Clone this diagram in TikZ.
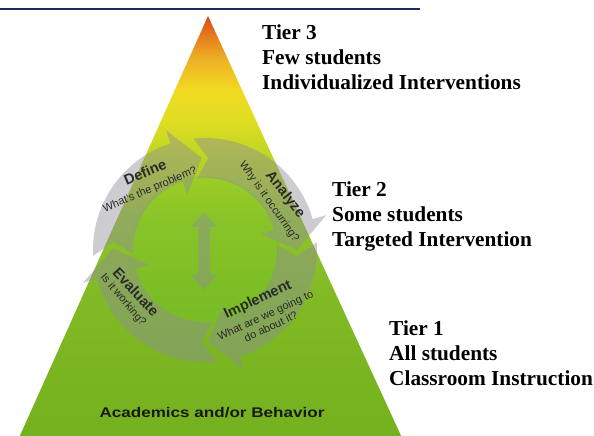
\documentclass[tikz,border=0pt]{standalone}
\usepackage{fontspec}
\usepackage{graphicx}
\setmainfont{Liberation Serif}
\setsansfont{Liberation Sans}

% pyramid colours, apex to base
\definecolor{pyrTop}{HTML}{D4481A}
\definecolor{pyrA1}{HTML}{E67A1E}
\definecolor{pyrA2}{HTML}{EEB224}
\definecolor{pyrB}{HTML}{F0DA22}
\definecolor{pyrC}{HTML}{E0DE22}
\definecolor{pyrD}{HTML}{BAD422}
\definecolor{pyrE}{HTML}{92C42A}
\definecolor{pyrF}{HTML}{80BA24}
\definecolor{pyrG}{HTML}{74B11E}
\definecolor{ruleblue}{HTML}{1F2A60}
\definecolor{cyclegray}{HTML}{8E8E98}
\definecolor{cycletext}{HTML}{2A2A2A}
\definecolor{glowgreen}{HTML}{70C626}

\pgfdeclareverticalshading{pyramid}{100bp}{%
  color(0bp)=(pyrG); color(25bp)=(pyrG); color(41.51bp)=(pyrF);
  color(50.94bp)=(pyrE); color(58.02bp)=(pyrD); color(62.74bp)=(pyrC);
  color(66.27bp)=(pyrB); color(69.81bp)=(pyrA2); color(72.76bp)=(pyrA1);
  color(75bp)=(pyrTop); color(100bp)=(pyrTop)}

% one curved arrow of the cycle: tail angle, barb angle, tip angle
\newcommand\cyclearrow[3]{%
  \fill[cyclefill] (#1:112) arc[start angle=#1, end angle=#2, radius=112]
    -- (#2:126) -- (#3:92) -- (#2:58) -- (#2:72)
    arc[start angle=#2, end angle=#1, radius=72]
    -- ({#1-8}:92) -- cycle;}

\tikzset{
  tiertext/.style={anchor=base west, align=left, inner sep=0pt,
    font=\bfseries\fontsize{21.3bp}{25bp}\selectfont},
  cyclefill/.style={fill=cyclegray, fill opacity=0.45},
  steptitle/.style={inner sep=0pt, text=cycletext,
    font=\sffamily\bfseries\fontsize{14.5bp}{16bp}\selectfont},
  stepquestion/.style={inner sep=0pt, text=cycletext, align=center,
    font=\sffamily\fontsize{11bp}{12.5bp}\selectfont},
}

\begin{document}
\begin{tikzpicture}[x=1bp, y=-1bp]
\useasboundingbox (0,0) rectangle (594,436);

% heading rule
\coordinate (ruleL) at (0,9.5);
\coordinate (ruleR) at (420,9.5);
\draw[ruleblue, line width=2bp] (ruleL) -- (ruleR);

% the pyramid
\shade[shading=pyramid] (208,16) -- (18,440) -- (403,440) -- cycle;

% problem-solving cycle
\begin{scope}[shift={(205,250)}, y=1bp]
  % slightly brighter green inside the ring
  \fill[glowgreen, fill opacity=0.28] (0,0) circle[radius=74];
  \cyclearrow{183}{108}{92}
  \cyclearrow{96}{16}{0}
  \cyclearrow{4}{-72}{-88}
  \cyclearrow{-84}{-165}{-181}
  % two-way arrow in the middle
  \fill[cyclefill] (-1,38) -- (12,23) -- (5,23) -- (5,-25) -- (12,-25)
    -- (-1,-40) -- (-14,-25) -- (-7,-25) -- (-7,23) -- (-14,23) -- cycle;

  \node[steptitle, rotate=23] (define) at (-60,78) {Define};
  \node[stepquestion, rotate=23] (defineq) at (-55,60) {What's the problem?};
  \node[steptitle, rotate=-52] (analyze) at (80,55) {Analyze};
  \node[stepquestion, rotate=-55] (analyzeq) at (64,48) {Why is it occurring?};
  \node[steptitle, rotate=-47] (evaluate) at (-69,-42) {Evaluate};
  \node[stepquestion, rotate=-50] (evaluateq) at (-82,-50) {Is it working?};
  \node[steptitle, rotate=25] (implement) at (53,-50) {Implement};
  \node[stepquestion, rotate=25] (implementq) at (63,-71)
    {What are we going to\\do about it?};
\end{scope}

\node[anchor=base, inner sep=0pt, text=black!90,
  font=\sffamily\bfseries\fontsize{14bp}{16bp}\selectfont] (domain) at (212,417)
  {\scalebox{1.22}[1]{Academics and/or Behavior}};

% tier labels (anchored on the baseline of their last line)
\node[tiertext] (tier3) at (262,90) {Tier 3\\Few students\\Individualized Interventions};
\node[tiertext] (tier2) at (332,247) {Tier 2\\Some students\\Targeted Intervention};
\node[tiertext] (tier1) at (389,385) {Tier 1\\All students\\Classroom Instruction};
\end{tikzpicture}
\end{document}
